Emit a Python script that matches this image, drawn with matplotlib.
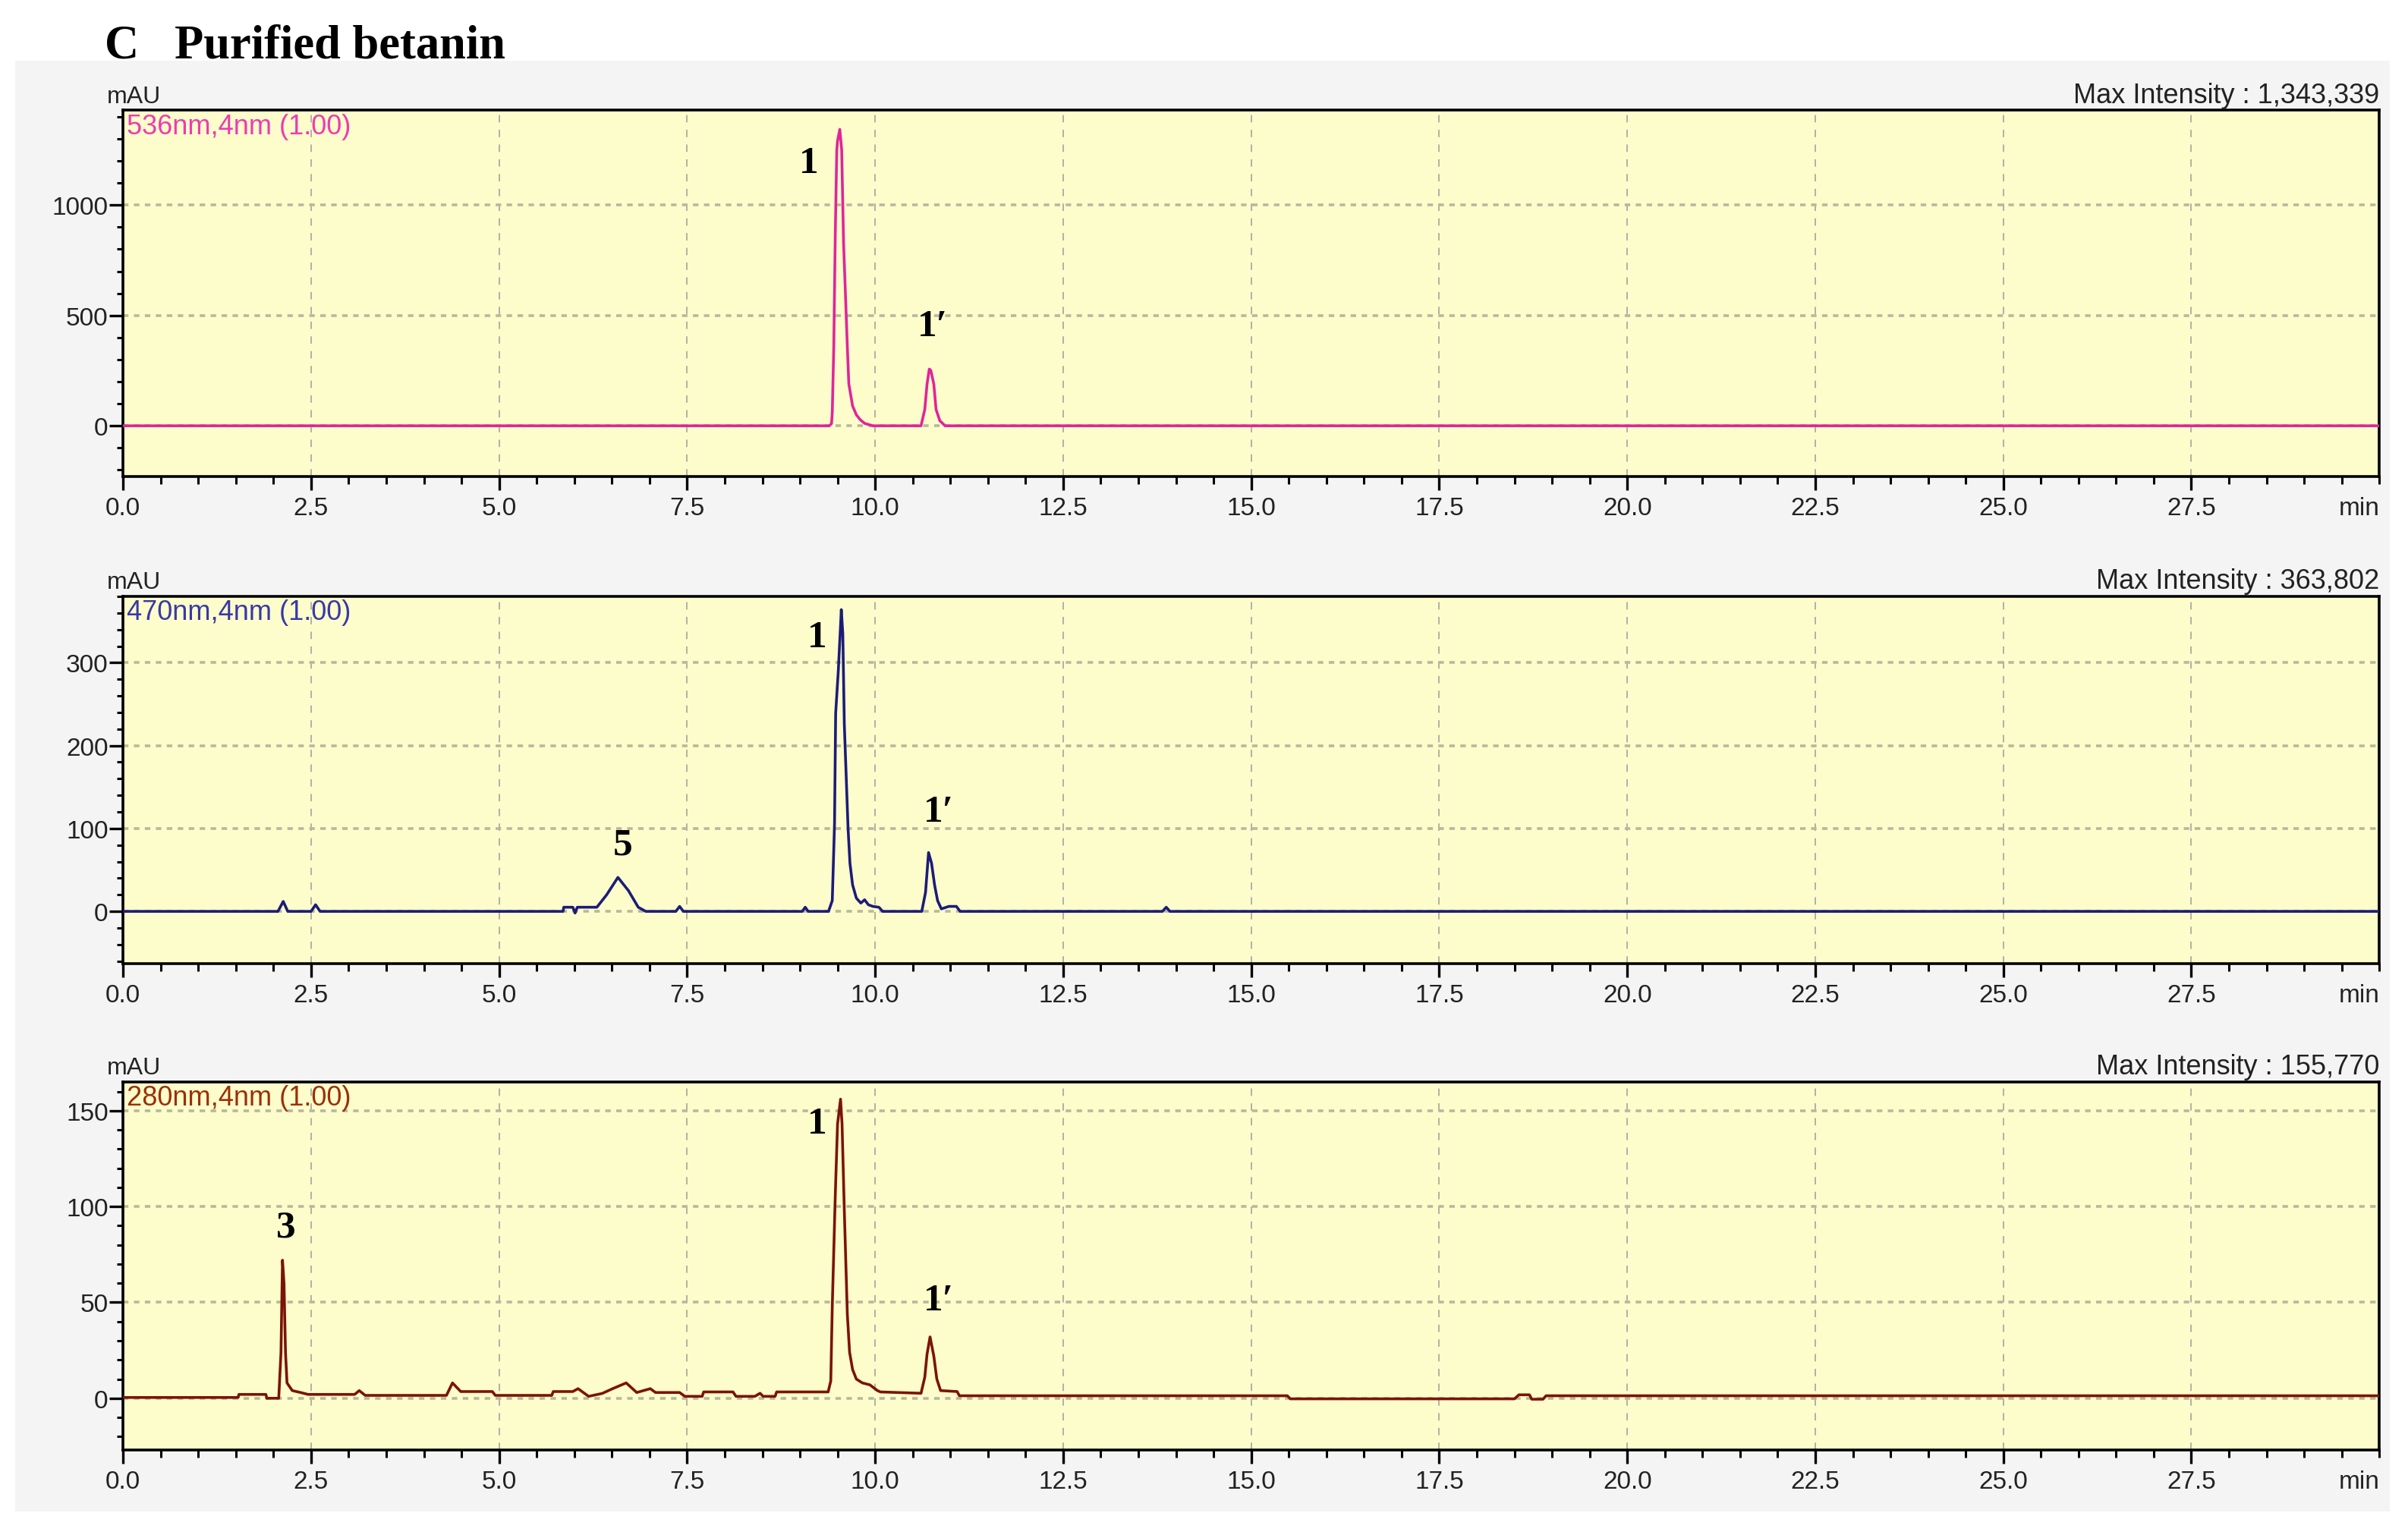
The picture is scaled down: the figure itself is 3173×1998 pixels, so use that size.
import matplotlib
matplotlib.use("Agg")
import matplotlib.pyplot as plt
from matplotlib.patches import Rectangle
from matplotlib.ticker import MultipleLocator, FixedLocator

# ---------------- data ----------------
time_536 = [0.0, 9.39, 9.42, 9.43, 9.45, 9.47, 9.49, 9.50, 9.53, 9.555, 9.57, 9.58, 9.61, 9.63,
            9.65, 9.70, 9.75, 9.80, 9.86, 9.97, 10.61, 10.66, 10.69, 10.72, 10.74, 10.78, 10.81,
            10.86, 10.93, 30.0]
mau_536 = [0, 0, 10, 60, 360, 870, 1250, 1290, 1343, 1250, 1000, 830, 550, 360,
           190, 90, 50, 28, 11, 0, 0, 74, 189, 257, 251, 189, 74,
           23, 0, 0]

time_470 = [0.0, 2.06, 2.13, 2.19, 2.50, 2.56, 2.62, 5.85, 5.86, 5.98, 6.01, 6.04, 6.30, 6.43,
            6.58, 6.72, 6.85, 6.95, 7.35, 7.40, 7.45, 9.03, 9.07, 9.11, 9.38, 9.43, 9.46, 9.475,
            9.51, 9.54, 9.55, 9.57, 9.59, 9.64, 9.665, 9.70, 9.75, 9.81, 9.86, 9.91, 9.97, 10.05,
            10.10, 10.62, 10.67, 10.71, 10.75, 10.79, 10.83, 10.88, 10.98, 11.08, 11.13, 13.82,
            13.87, 13.92, 30.0]
mau_470 = [0, 0, 12, 0, 0, 8, 0, 0, 5, 5, -2, 5, 5, 20,
           41, 25, 5, 0, 0, 6, 0, 0, 5, 0, 0, 13, 106, 239,
           290, 345, 364, 335, 226, 100, 58, 32, 16, 10, 14, 8, 6, 5,
           0, 0, 23, 71, 58, 32, 13, 3, 6, 6, 0, 0,
           5, 0, 0]

time_280 = [0.0, 1.53, 1.54, 1.90, 1.91, 2.07, 2.10, 2.12, 2.14, 2.16, 2.18, 2.25, 2.36, 2.46,
            3.08, 3.14, 3.22, 4.30, 4.38, 4.49, 4.91, 4.95, 5.70, 5.72, 5.98, 6.05, 6.12, 6.19,
            6.37, 6.51, 6.69, 6.83, 7.01, 7.08, 7.40, 7.47, 7.70, 7.72, 8.11, 8.15, 8.40, 8.47,
            8.51, 8.67, 8.69, 9.375, 9.41, 9.43, 9.47, 9.50, 9.54, 9.56, 9.59, 9.63, 9.66, 9.70,
            9.75, 9.83, 9.93, 10.03, 10.07, 10.61, 10.66, 10.69, 10.73, 10.78, 10.82, 10.87,
            11.09, 11.12, 15.48, 15.52, 18.50, 18.56, 18.70, 18.73, 18.88, 18.92, 30.0]
mau_280 = [0.4, 0.4, 2, 2, 0, 0, 24, 72, 60, 24, 8, 4, 3, 2,
           2, 4, 1.5, 1.5, 8, 3.5, 3.5, 1.5, 1.5, 3.5, 3.5, 5, 3, 1,
           2.5, 5, 8, 3, 5, 3, 3, 1, 1, 3.3, 3.3, 1, 1, 2.6,
           1, 1, 3.3, 3.3, 9, 48, 106, 143, 156, 143, 98, 44, 24, 15,
           10, 8, 7, 4, 3.3, 2.6, 11, 23, 32, 22, 10, 4,
           3.5, 1.3, 1.3, -0.3, -0.3, 1.8, 1.8, -0.5, -0.5, 1.3, 1.3]

channel_labels = ["536nm,4nm (1.00)", "470nm,4nm (1.00)", "280nm,4nm (1.00)"]
max_intensity = ["Max Intensity : 1,343,339", "Max Intensity : 363,802", "Max Intensity : 155,770"]
y_limits = [(-230, 1430), (-63, 380), (-27, 165)]
y_major = [[0, 500, 1000], [0, 100, 200, 300], [0, 50, 100, 150]]
y_minor_step = [100, 20, 10]
x_major = [0.0, 2.5, 5.0, 7.5, 10.0, 12.5, 15.0, 17.5, 20.0, 22.5, 25.0, 27.5]

peak_labels = [
    [("1", 9.12, 1190), ("1\u2032", 10.76, 450)],
    [("1", 9.23, 331), ("5", 6.64, 80), ("1\u2032", 10.85, 120)],
    [("1", 9.23, 143), ("3", 2.17, 89), ("1\u2032", 10.85, 51)],
]

line_colors = ["#e0259a", "#1c1c78", "#7a1408"]
label_colors = ["#ec3cb0", "#3838a8", "#9a3008"]

# ---------------- figure ----------------
SANS = ["Liberation Sans", "DejaVu Sans"]
SERIF = ["Liberation Serif", "DejaVu Serif"]
plt.rcParams["font.family"] = SANS

fig = plt.figure(figsize=(31.73, 19.99), dpi=100)
fig.patch.set_facecolor("white")
fig.add_artist(Rectangle((0.0063, 0.003), 0.986, 0.9565, transform=fig.transFigure,
                         facecolor="#f4f4f4", edgecolor="none", zorder=-10))

fig.text(0.0435, 0.969, "C   Purified betanin", fontsize=45, fontweight="bold",
         family=SERIF, va="center", ha="left", color="black")

positions = [[0.0511, 0.6853, 0.9370, 0.2416],
             [0.0511, 0.3642, 0.9370, 0.2421],
             [0.0511, 0.0435, 0.9370, 0.2427]]
series = [(time_536, mau_536), (time_470, mau_470), (time_280, mau_280)]

for i in range(3):
    ax = fig.add_axes(positions[i])
    ax.set_facecolor("#fdfccb")
    t, v = series[i]
    ax.plot(t, v, color=line_colors[i], lw=2.6, zorder=3)
    ax.set_xlim(0, 30)
    ax.set_ylim(*y_limits[i])

    ax.xaxis.set_major_locator(FixedLocator(x_major))
    ax.xaxis.set_minor_locator(MultipleLocator(0.5))
    ax.set_xticklabels([f"{x:.1f}" for x in x_major])
    ax.yaxis.set_major_locator(FixedLocator(y_major[i]))
    ax.yaxis.set_minor_locator(MultipleLocator(y_minor_step[i]))
    ax.set_yticklabels([str(y) for y in y_major[i]])

    ax.tick_params(axis="x", which="major", direction="out", length=13, width=2.4,
                   labelsize=24, pad=6, colors="black", labelcolor="#222222")
    ax.tick_params(axis="x", which="minor", direction="out", length=7, width=2.2)
    ax.tick_params(axis="y", which="major", direction="out", length=13, width=2.4,
                   labelsize=24, pad=1, colors="black", labelcolor="#222222")
    ax.tick_params(axis="y", which="minor", direction="out", length=6, width=2.2)

    ax.set_axisbelow(True)
    ax.xaxis.grid(True, which="major", linestyle=(0, (5, 5)), color="#b0b0a8", lw=1.4)
    ax.yaxis.grid(True, which="major", linestyle=(0, (2, 2)), color="#b8b89c", lw=2.6)

    for sp in ax.spines.values():
        sp.set_color("black")
        sp.set_linewidth(2.6)

    ax.text(0.0015, 0.993, channel_labels[i], transform=ax.transAxes, ha="left", va="top",
            fontsize=26, color=label_colors[i], zorder=5)
    ax.text(-0.0072, 1.022, "mAU", transform=ax.transAxes, ha="left", va="baseline",
            fontsize=23, color="#222222")
    ax.text(1.0, 1.022, max_intensity[i], transform=ax.transAxes, ha="right", va="baseline",
            fontsize=26, color="#222222")
    ax.annotate("min", xy=(30, 0), xycoords=("data", "axes fraction"), xytext=(0, -19),
                textcoords="offset points", ha="right", va="top", fontsize=24,
                color="#222222", annotation_clip=False)

    for txt, px, py in peak_labels[i]:
        ax.text(px, py, txt, ha="center", va="center", fontsize=37, fontweight="bold",
                family=SERIF, color="black", zorder=6)

fig.savefig("out.png", dpi=100, facecolor=fig.get_facecolor())
